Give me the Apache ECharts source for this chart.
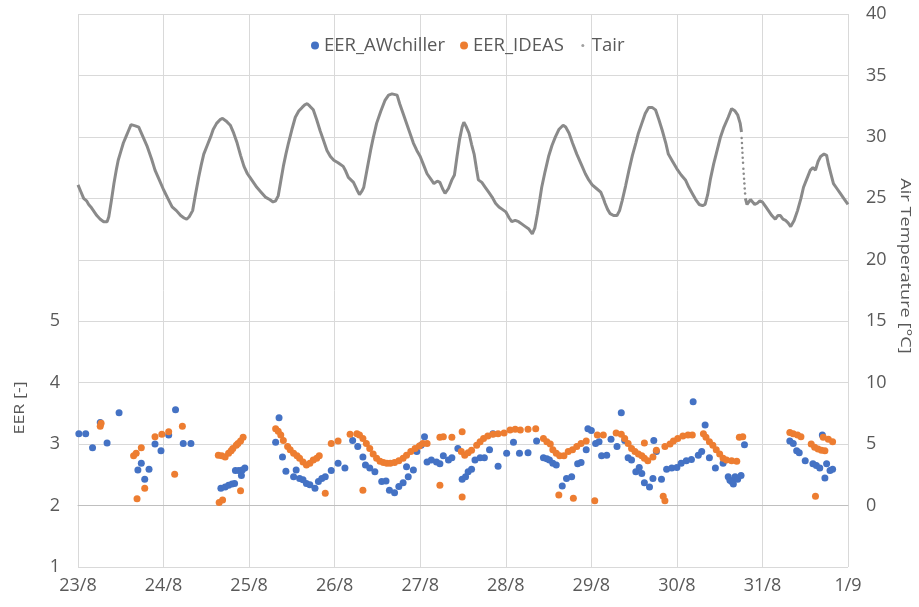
<!DOCTYPE html>
<html>
<head>
<meta charset="utf-8">
<script src="https://cdn.jsdelivr.net/npm/echarts@6/dist/echarts.min.js"></script>
<style>
  html, body { margin: 0; padding: 0; background: #fff; }
  #chart { width: 919px; height: 607px; }
</style>
</head>
<body>
<div id="chart"></div>
<script>
// Day ticks (x = days since 23/8 00:00)
const dayLabels = ['23/8', '24/8', '25/8', '26/8', '27/8', '28/8', '29/8', '30/8', '31/8', '1/9'];

// EER of the air-water chiller (measured)
const awDay = [0.01, 0.09, 0.17, 0.26, 0.34, 0.48, 0.70, 0.74, 0.78, 0.83, 0.90, 0.97, 1.06, 1.14, 1.23, 1.32,
  1.67, 1.72, 1.76, 1.80, 1.83, 1.84, 1.88, 1.91, 1.92, 1.95,
  2.31, 2.35, 2.39, 2.43, 2.52, 2.55, 2.59, 2.63, 2.67, 2.71, 2.77, 2.81, 2.85, 2.89, 2.96,
  3.04, 3.12, 3.21, 3.27, 3.33, 3.36, 3.41, 3.47, 3.55, 3.60, 3.64, 3.70, 3.75, 3.80, 3.84, 3.86, 3.92, 3.96,
  4.01, 4.05, 4.08, 4.13, 4.19, 4.23, 4.27, 4.33, 4.37, 4.44, 4.49, 4.53, 4.56, 4.60, 4.64, 4.70, 4.75, 4.81, 4.85, 4.91,
  5.01, 5.09, 5.16, 5.26, 5.36, 5.44, 5.48, 5.51, 5.55, 5.59, 5.66, 5.71, 5.77, 5.84, 5.88, 5.94, 5.96,
  6.00, 6.05, 6.09, 6.12, 6.18, 6.23, 6.30, 6.35, 6.39, 6.43, 6.47, 6.52, 6.56, 6.59, 6.62, 6.68, 6.72, 6.73, 6.76, 6.82, 6.88, 6.94,
  7.00, 7.05, 7.11, 7.17, 7.19, 7.25, 7.29, 7.33, 7.38, 7.45, 7.54, 7.60, 7.62, 7.64, 7.66, 7.68, 7.71, 7.75, 7.79,
  8.32, 8.36, 8.40, 8.43, 8.50, 8.59, 8.63, 8.67, 8.70, 8.73, 8.75, 8.79, 8.82];
const awEER = [3.17, 3.17, 2.94, 3.35, 3.02, 3.51, 2.58, 2.69, 2.43, 2.59, 3.00, 2.89, 3.15, 3.56, 3.01, 3.01,
  2.28, 2.30, 2.33, 2.35, 2.36, 2.57, 2.57, 2.49, 2.58, 2.61,
  3.03, 3.43, 2.79, 2.56, 2.47, 2.58, 2.44, 2.42, 2.36, 2.34, 2.28, 2.39, 2.44, 2.47, 2.57,
  2.69, 2.61, 3.06, 2.96, 2.79, 2.66, 2.61, 2.55, 2.39, 2.40, 2.25, 2.21, 2.31, 2.37, 2.63, 2.47, 2.58, 2.88,
  2.98, 3.12, 2.71, 2.74, 2.71, 2.68, 2.81, 2.74, 2.78, 2.93, 2.43, 2.47, 2.55, 2.59, 2.74, 2.78, 2.78, 2.91, 3.17, 2.64,
  2.85, 3.03, 2.85, 2.86, 3.05, 2.78, 2.76, 2.74, 2.69, 2.66, 2.32, 2.44, 2.47, 2.68, 2.70, 2.91, 3.25,
  3.22, 3.01, 3.04, 2.81, 2.82, 3.08, 2.96, 3.51, 3.06, 2.78, 2.74, 2.55, 2.62, 2.52, 2.37, 2.30, 2.44, 3.06, 2.88, 2.43, 2.59, 2.61,
  2.62, 2.69, 2.73, 2.75, 3.69, 2.82, 2.88, 3.31, 2.78, 2.61, 2.69, 2.47, 2.41, 2.39, 2.35, 2.47, 2.43, 2.49, 2.99,
  3.05, 3.01, 2.89, 2.86, 2.73, 2.68, 2.65, 2.61, 3.15, 2.45, 2.68, 2.57, 2.59];

// EER predicted by the IDEAS model
const ideasDay = [0.26, 0.27, 0.65, 0.68, 0.69, 0.74, 0.78, 0.90, 0.98, 1.06, 1.13, 1.22,
  1.64, 1.65, 1.68, 1.69, 1.72, 1.76, 1.79, 1.81, 1.85, 1.87, 1.90, 1.90, 1.93,
  2.31, 2.34, 2.37, 2.40, 2.45, 2.48, 2.52, 2.56, 2.59, 2.63, 2.67, 2.71, 2.75, 2.79, 2.82, 2.89, 2.96,
  3.04, 3.18, 3.26, 3.29, 3.33, 3.33, 3.37, 3.41, 3.45, 3.49, 3.53, 3.57, 3.61, 3.65, 3.70, 3.75, 3.80, 3.84, 3.89, 3.94, 3.99,
  4.03, 4.08, 4.23, 4.23, 4.27, 4.37, 4.48, 4.49, 4.49, 4.52, 4.56, 4.60, 4.66, 4.70, 4.74, 4.79, 4.85, 4.91, 4.98,
  5.05, 5.11, 5.17, 5.26, 5.35, 5.44, 5.48, 5.52, 5.55, 5.59, 5.62, 5.63, 5.68, 5.73, 5.78, 5.79, 5.83, 5.88, 5.94,
  6.04, 6.07, 6.14, 6.29, 6.35, 6.39, 6.43, 6.47, 6.51, 6.55, 6.59, 6.62, 6.62, 6.66, 6.72, 6.76, 6.84, 6.86, 6.86, 6.92, 6.96,
  7.01, 7.07, 7.13, 7.18, 7.31, 7.34, 7.38, 7.42, 7.46, 7.50, 7.54, 7.58, 7.64, 7.70, 7.73, 7.77,
  8.32, 8.36, 8.41, 8.45, 8.57, 8.61, 8.62, 8.65, 8.69, 8.71, 8.73, 8.77, 8.82];
const ideasEER = [3.29, 3.34, 2.81, 2.85, 2.11, 2.94, 2.28, 3.12, 3.16, 3.20, 2.51, 3.29,
  2.82, 2.05, 2.81, 2.09, 2.79, 2.85, 2.89, 2.93, 2.98, 3.01, 3.05, 2.24, 3.11,
  3.25, 3.21, 3.15, 3.06, 2.96, 2.91, 2.85, 2.81, 2.77, 2.71, 2.66, 2.69, 2.74, 2.77, 2.81, 2.20, 3.01,
  3.05, 3.16, 3.17, 3.15, 3.09, 2.25, 3.01, 2.93, 2.84, 2.77, 2.72, 2.70, 2.69, 2.69, 2.70, 2.73, 2.77, 2.82, 2.88, 2.93, 2.97,
  3.01, 3.01, 3.11, 2.33, 3.12, 3.11, 2.88, 2.14, 3.20, 2.82, 2.86, 2.90, 2.98, 3.04, 3.09, 3.13, 3.16, 3.17, 3.18,
  3.23, 3.24, 3.23, 3.24, 3.25, 3.09, 3.04, 3.00, 2.91, 2.85, 2.17, 2.81, 2.81, 2.88, 2.91, 2.12, 2.96, 3.01, 3.05,
  2.08, 3.15, 3.15, 3.18, 3.16, 3.09, 3.01, 2.93, 2.88, 2.84, 2.81, 3.02, 2.77, 2.73, 2.79, 2.90, 2.15, 2.08, 2.96, 3.00, 3.05,
  3.09, 3.13, 3.15, 3.15, 3.17, 3.11, 3.04, 2.98, 2.91, 2.84, 2.77, 2.74, 2.73, 2.72, 3.11, 3.12,
  3.19, 3.17, 3.15, 3.12, 3.00, 2.95, 2.15, 2.92, 2.90, 3.11, 2.89, 3.08, 3.04];

// Outdoor air temperature [°C], before and after the logging gap on 30/8
const tairDayA = [0.00, 0.03, 0.066, 0.10, 0.125, 0.15, 0.18, 0.22, 0.26, 0.30, 0.32, 0.34, 0.36, 0.39, 0.42, 0.45, 0.47, 0.50, 0.53, 0.56, 0.59, 0.62, 0.64, 0.67, 0.71, 0.76, 0.81, 0.86, 0.90, 0.95,
  1.00, 1.05, 1.10, 1.15, 1.20, 1.24, 1.27, 1.30, 1.34, 1.37, 1.41, 1.44, 1.47, 1.51, 1.55, 1.58, 1.62, 1.66, 1.69, 1.73, 1.78, 1.82, 1.86, 1.90, 1.94, 1.98,
  2.01, 2.05, 2.09, 2.14, 2.19, 2.24, 2.28, 2.31, 2.34, 2.37, 2.40, 2.43, 2.46, 2.50, 2.54, 2.58, 2.62, 2.65, 2.68, 2.71, 2.75, 2.79, 2.83, 2.87, 2.91, 2.95, 2.99,
  3.04, 3.10, 3.13, 3.16, 3.19, 3.22, 3.26, 3.29, 3.32, 3.34, 3.38, 3.42, 3.45, 3.49, 3.54, 3.59, 3.63, 3.67, 3.73, 3.76, 3.80, 3.86, 3.92, 3.96,
  4.00, 4.04, 4.08, 4.12, 4.16, 4.20, 4.23, 4.26, 4.29, 4.33, 4.37, 4.40, 4.43, 4.46, 4.49, 4.51, 4.54, 4.57, 4.60, 4.63, 4.66, 4.68, 4.72, 4.76, 4.80, 4.84, 4.88, 4.92, 4.96,
  5.00, 5.04, 5.07, 5.11, 5.15, 5.19, 5.23, 5.27, 5.31, 5.34, 5.37, 5.40, 5.42, 5.46, 5.50, 5.54, 5.58, 5.62, 5.67, 5.70, 5.74, 5.78, 5.83, 5.88, 5.93, 5.97,
  6.01, 6.06, 6.11, 6.14, 6.16, 6.19, 6.22, 6.26, 6.30, 6.33, 6.36, 6.40, 6.44, 6.48, 6.52, 6.55, 6.59, 6.63, 6.67, 6.71, 6.75, 6.79, 6.83, 6.87, 6.90, 6.95,
  7.00, 7.05, 7.10, 7.14, 7.18, 7.22, 7.26, 7.30, 7.33, 7.36, 7.39, 7.43, 7.47, 7.51, 7.55, 7.60, 7.64, 7.68, 7.71, 7.74, 7.755];
const tairValA = [26.1, 25.6, 25.0, 24.8, 24.5, 24.3, 24.0, 23.6, 23.3, 23.1, 23.0, 23.1, 23.5, 24.8, 26.2, 27.4, 28.1, 28.8, 29.5, 30.0, 30.5, 31.0, 31.1, 30.9, 30.8, 30.0, 29.2, 28.2, 27.3, 26.5,
  25.7, 25.0, 24.3, 24.0, 23.6, 23.4, 23.3, 23.5, 24.0, 25.2, 26.7, 27.7, 28.6, 29.3, 30.0, 30.6, 31.1, 31.4, 31.5, 31.3, 30.95, 30.3, 29.5, 28.5, 27.6, 27.0,
  26.7, 26.3, 25.9, 25.5, 25.1, 24.9, 24.7, 24.8, 25.2, 26.4, 27.6, 28.6, 29.5, 30.6, 31.6, 32.1, 32.4, 32.6, 32.7, 32.5, 32.2, 31.4, 30.5, 29.7, 28.9, 28.4, 28.1,
  27.9, 27.6, 27.2, 26.7, 26.5, 26.3, 25.7, 25.3, 25.6, 25.9, 27.4, 28.9, 29.9, 31.1, 32.1, 33.0, 33.4, 33.5, 33.4, 32.7, 31.9, 30.7, 29.5, 28.9,
  28.4, 27.7, 27.0, 26.6, 26.2, 26.4, 26.3, 25.8, 25.4, 25.8, 26.5, 26.9, 28.4, 29.8, 30.8, 31.2, 30.8, 30.3, 29.4, 28.6, 27.3, 26.5, 26.3, 25.9, 25.5, 25.1, 24.6, 24.3, 24.1,
  23.9, 23.4, 23.1, 23.2, 23.1, 22.9, 22.7, 22.5, 22.1, 22.6, 23.75, 25.0, 25.9, 27.2, 28.4, 29.3, 30.0, 30.6, 30.95, 30.8, 30.3, 29.5, 28.6, 27.8, 27.0, 26.5,
  26.1, 25.8, 25.5, 25.0, 24.6, 24.1, 23.75, 23.6, 23.6, 24.0, 24.8, 26.0, 27.3, 28.5, 29.5, 30.3, 31.1, 31.9, 32.4, 32.4, 32.2, 31.4, 30.5, 29.5, 28.6, 28.0,
  27.4, 26.9, 26.5, 25.9, 25.4, 24.9, 24.5, 24.4, 24.5, 25.3, 26.5, 27.8, 28.9, 30.0, 30.8, 31.6, 32.3, 32.1, 31.8, 31.1, 30.4];
// sparse readings during the steep drop on 30/8 evening
const tairDayGap = [7.757, 7.760, 7.763, 7.766, 7.769, 7.773, 7.777, 7.781, 7.785, 7.789, 7.793, 7.797];
const tairValGap = [29.9, 29.5, 29.1, 28.7, 28.3, 27.9, 27.4, 27.0, 26.6, 26.2, 25.8, 25.4];
const tairDayB = [7.80, 7.82, 7.84, 7.86, 7.88, 7.91, 7.94, 7.97, 8.00, 8.04, 8.07, 8.11, 8.15, 8.18, 8.21, 8.24, 8.27, 8.30, 8.33, 8.37, 8.41, 8.45, 8.48, 8.52, 8.56, 8.59, 8.62, 8.65, 8.68, 8.72, 8.75, 8.77, 8.80, 8.83, 8.87, 8.91, 8.95, 9.00];
const tairValB = [25.0, 24.5, 24.4, 24.9, 24.9, 24.5, 24.6, 24.8, 24.7, 24.3, 24.0, 23.6, 23.3, 23.6, 23.6, 23.3, 23.2, 23.0, 22.7, 23.2, 24.0, 25.0, 25.9, 26.6, 27.3, 27.5, 27.3, 28.0, 28.4, 28.6, 28.5, 27.8, 27.0, 26.2, 25.8, 25.4, 25.0, 24.5];

const zip = (xs, ys) => xs.map((x, i) => [x, ys[i]]);

const FONT = 'Open Sans';
const TXT = '#595959';
const GRID = '#d9d9d9';
const BLUE = '#4472C4';
const ORANGE = '#ED7D31';
const GREY = '#8a8a8a';

const tairIcon = 'image://data:image/svg+xml;charset=utf-8,' + encodeURIComponent(
  '<svg xmlns="http://www.w3.org/2000/svg" width="8" height="8"><circle cx="4" cy="4" r="1.5" fill="#a0a0a0"/></svg>');

const chart = echarts.init(document.getElementById('chart'), null, { renderer: 'canvas' });

chart.setOption({
  animation: false,
  backgroundColor: '#ffffff',
  textStyle: { fontFamily: FONT },
  grid: { left: 78, right: 71, top: 14, bottom: 40, containLabel: false },
  legend: {
    top: 31,
    left: 306,
    itemWidth: 8,
    itemHeight: 8,
    itemGap: 15,
    textStyle: { color: TXT, fontSize: 18.5, fontFamily: FONT },
    data: [
      { name: 'EER_AWchiller', icon: 'circle' },
      { name: 'EER_IDEAS', icon: 'circle' },
      { name: 'Tair', icon: tairIcon }
    ]
  },
  xAxis: {
    type: 'value',
    min: 0,
    max: 9,
    interval: 1,
    axisLine: { show: true, lineStyle: { color: '#bfbfbf', width: 1 } },
    axisTick: { show: false },
    axisLabel: {
      color: TXT, fontSize: 18, fontFamily: FONT, margin: 10,
      formatter: v => dayLabels[Math.round(v)]
    },
    splitLine: { show: true, lineStyle: { color: GRID, width: 1 } }
  },
  yAxis: [
    {
      type: 'value',
      min: 1,
      max: 10,
      interval: 1,
      axisLine: { show: false },
      axisTick: { show: false },
      axisLabel: {
        color: TXT, fontSize: 18, fontFamily: FONT, margin: 18,
        formatter: v => (v <= 5 ? String(v) : '')
      },
      splitLine: { show: true, lineStyle: { color: GRID, width: 1 } }
    },
    {
      type: 'value',
      position: 'right',
      min: -5,
      max: 40,
      interval: 5,
      axisLine: { show: false },
      axisTick: { show: false },
      axisLabel: {
        color: TXT, fontSize: 18, fontFamily: FONT, margin: 18,
        formatter: v => (v < 0 ? '' : String(v))
      },
      splitLine: { show: false }
    }
  ],
  graphic: [
    {
      type: 'text', x: 20, y: 408, rotation: Math.PI / 2, scaleX: 1.28,
      style: { text: 'EER [-]', fill: TXT, font: '14px "Open Sans"', align: 'center', verticalAlign: 'middle' }
    },
    {
      type: 'text', x: 905, y: 266, rotation: -Math.PI / 2, scaleX: 1.3,
      style: { text: 'Air Temperature [°C]', fill: TXT, font: '14px "Open Sans"', align: 'center', verticalAlign: 'middle' }
    }
  ],
  series: [
    {
      name: 'EER_AWchiller', type: 'scatter', yAxisIndex: 0,
      symbol: 'circle', symbolSize: 7,
      itemStyle: { color: BLUE, opacity: 1 },
      data: zip(awDay, awEER)
    },
    {
      name: 'EER_IDEAS', type: 'scatter', yAxisIndex: 0,
      symbol: 'circle', symbolSize: 7,
      itemStyle: { color: ORANGE, opacity: 1 },
      data: zip(ideasDay, ideasEER)
    },
    {
      name: 'Tair', type: 'line', yAxisIndex: 1,
      showSymbol: false, symbol: 'none',
      lineStyle: { color: GREY, width: 3 },
      itemStyle: { color: GREY },
      data: zip(tairDayA, tairValA)
    },
    {
      name: 'Tair', type: 'scatter', yAxisIndex: 1,
      symbol: 'circle', symbolSize: 2.5,
      itemStyle: { color: GREY, opacity: 1 },
      data: zip(tairDayGap, tairValGap)
    },
    {
      name: 'Tair', type: 'line', yAxisIndex: 1,
      showSymbol: false, symbol: 'none',
      lineStyle: { color: GREY, width: 3 },
      itemStyle: { color: GREY },
      data: zip(tairDayB, tairValB)
    }
  ]
});
</script>
</body>
</html>
